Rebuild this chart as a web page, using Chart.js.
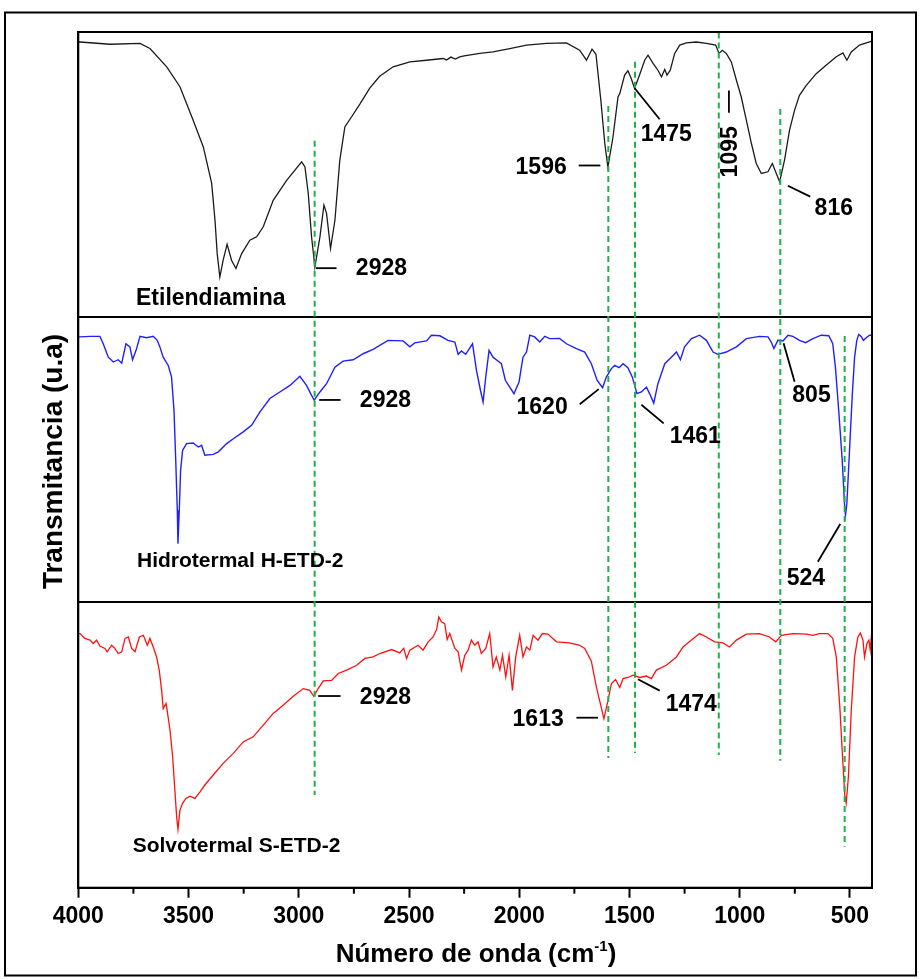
<!DOCTYPE html>
<html>
<head>
<meta charset="utf-8">
<script src="https://cdn.jsdelivr.net/npm/chart.js@4.4.1/dist/chart.umd.min.js"></script>
<style>
  html, body { margin: 0; padding: 0; background: #fff; }
  #canvas { display: block; }
</style>
</head>
<body>
<canvas id="canvas" width="919" height="979"></canvas>
<script>
/* espectros FTIR: [numero de onda, transmitancia relativa del panel] */
const etilendiamina = [
  [4000,96.5],[3992,96.5],[3856,95.7],[3720,96.0],[3675,94.2],[3599,87.8],[3539,80.8],[3479,69.1],
  [3433,59.7],[3395,46.9],[3380,34.0],[3370,22.3],[3358,14.1],[3343,20.0],[3325,25.6],[3305,20.0],
  [3285,17.1],[3259,22.3],[3222,27.0],[3191,28.2],[3161,31.7],[3116,41.0],[3055,48.0],[2987,54.5],
  [2972,52.7],[2957,43.4],[2942,28.2],[2927,17.6],[2904,28.2],[2886,39.3],[2874,36.4],[2856,24.1],
  [2836,34.0],[2814,55.0],[2791,66.7],[2761,70.2],[2723,74.7],[2678,80.3],[2633,84.5],[2572,87.8],
  [2496,89.5],[2421,90.1],[2345,90.7],[2330,90.2],[2310,91.2],[2290,90.5],[2270,91.3],[2250,91.6],
  [2179,92.5],[2119,93.0],[2043,94.2],[1967,95.4],[1877,96.0],[1786,96.2],[1726,93.6],[1695,90.1],
  [1670,94.0],[1652,92.2],[1630,76.1],[1612,60.9],[1598,52.6],[1575,63.1],[1552,77.2],[1544,78.4],
  [1522,84.9],[1507,86.4],[1492,83.7],[1477,80.2],[1454,85.0],[1431,90.1],[1416,91.9],[1393,89.0],
  [1371,86.6],[1355,84.3],[1340,86.9],[1330,84.9],[1315,86.6],[1295,92.5],[1272,95.4],[1242,96.2],
  [1197,96.5],[1151,96.0],[1109,95.4],[1094,92.5],[1079,93.6],[1061,92.5],[1038,89.5],[1015,83.1],
  [993,77.2],[970,69.1],[947,60.9],[925,53.9],[902,50.4],[872,51.0],[852,53.9],[834,50.4],
  [819,47.5],[797,55.0],[774,65.6],[751,72.6],[729,77.8],[698,81.3],[653,85.4],[607,88.4],
  [562,91.3],[532,92.7],[514,90.1],[494,93.0],[457,95.4],[411,96.5],[400,96.8]
];

const hidrotermal = [
  [4000,93.1],[3992,93.1],[3947,93.3],[3902,93.3],[3887,90.7],[3864,86.0],[3841,84.3],[3819,85.1],
  [3803,83.9],[3784,90.7],[3766,89.6],[3754,85.1],[3738,88.4],[3720,93.3],[3690,92.8],[3660,93.3],
  [3642,91.9],[3630,89.6],[3615,86.0],[3592,83.1],[3577,79.0],[3566,67.4],[3558,49.8],[3551,32.3],
  [3548,20.6],[3542,32.3],[3536,46.3],[3527,53.3],[3509,55.7],[3479,55.9],[3456,54.5],[3441,55.1],
  [3426,51.6],[3388,51.9],[3365,52.8],[3327,55.7],[3297,57.4],[3252,59.8],[3214,62.1],[3176,66.8],
  [3131,71.5],[3086,73.8],[3040,76.1],[2995,79.3],[2965,76.1],[2946,73.2],[2930,70.9],[2904,73.8],
  [2874,76.7],[2836,82.5],[2799,84.6],[2753,85.1],[2708,87.2],[2663,88.7],[2595,91.9],[2527,91.7],
  [2496,89.6],[2474,91.0],[2421,91.7],[2398,93.7],[2360,93.5],[2323,91.9],[2292,91.3],[2277,87.0],
  [2262,88.2],[2243,87.0],[2212,90.7],[2194,81.4],[2176,74.4],[2164,70.3],[2152,79.0],[2137,88.4],
  [2119,86.0],[2101,84.9],[2081,83.7],[2063,77.9],[2043,75.5],[2024,73.2],[2001,77.3],[1983,86.0],
  [1967,87.8],[1952,93.7],[1930,93.1],[1907,91.3],[1884,93.3],[1862,92.5],[1817,92.6],[1786,90.7],
  [1741,89.0],[1703,87.8],[1673,83.7],[1647,77.9],[1622,75.3],[1605,79.0],[1582,82.0],[1567,83.1],
  [1547,82.3],[1529,83.7],[1507,82.3],[1487,79.0],[1466,73.2],[1446,73.8],[1423,75.5],[1405,72.6],
  [1390,69.9],[1371,76.7],[1340,83.7],[1310,86.0],[1287,87.8],[1269,85.1],[1250,89.6],[1219,92.5],
  [1182,93.7],[1151,91.9],[1121,87.8],[1099,87.0],[1061,87.8],[1015,89.6],[970,92.5],[910,93.3],
  [872,93.1],[857,91.3],[845,89.0],[827,91.9],[804,91.7],[781,93.7],[759,93.3],[729,91.9],
  [701,91.1],[668,92.5],[630,93.7],[596,93.5],[578,90.7],[566,82.5],[551,67.4],[535,49.8],
  [524,33.5],[520,30.6],[514,34.7],[502,53.3],[490,72.0],[479,86.0],[469,91.9],[460,94.0],
  [449,93.3],[439,91.9],[426,92.8],[411,93.7],[400,93.7]
];

const solvotermal = [
  [4000,89.1],[3992,89.1],[3970,87.4],[3947,86.8],[3932,85.6],[3917,86.8],[3902,84.7],[3879,83.9],
  [3869,82.7],[3849,85.0],[3834,83.9],[3819,82.1],[3803,82.7],[3788,87.4],[3773,87.9],[3758,83.9],
  [3743,82.7],[3723,87.9],[3705,88.5],[3687,85.0],[3675,87.4],[3660,84.4],[3645,80.9],[3633,76.3],
  [3622,69.2],[3615,62.8],[3602,64.6],[3597,62.2],[3584,55.2],[3572,45.9],[3562,34.2],[3554,24.9],
  [3548,20.5],[3539,27.2],[3527,29.6],[3512,31.3],[3494,32.1],[3471,31.3],[3448,33.6],[3426,36.0],
  [3388,39.5],[3343,43.6],[3297,47.1],[3252,51.1],[3207,52.9],[3161,57.0],[3116,61.1],[3071,64.0],
  [3025,67.1],[2980,69.8],[2950,69.2],[2932,67.1],[2912,69.8],[2889,72.5],[2851,72.7],[2821,75.1],
  [2783,76.3],[2738,78.0],[2700,80.4],[2663,80.9],[2632,82.1],[2579,83.5],[2542,82.3],[2524,83.9],
  [2511,80.4],[2496,83.3],[2459,85.0],[2436,83.3],[2413,86.2],[2391,87.9],[2375,90.5],[2365,94.9],
  [2353,93.2],[2338,92.6],[2327,87.0],[2315,89.1],[2292,83.9],[2277,82.7],[2262,76.3],[2247,81.5],
  [2232,83.3],[2217,86.8],[2202,85.0],[2187,86.2],[2172,82.1],[2152,83.9],[2134,89.1],[2119,77.4],
  [2104,80.9],[2088,76.3],[2076,81.5],[2061,73.9],[2046,81.5],[2031,69.2],[2016,80.9],[1998,88.5],
  [1983,80.9],[1967,84.4],[1952,83.3],[1937,88.5],[1915,86.8],[1895,89.1],[1870,88.9],[1831,86.2],
  [1771,85.8],[1726,85.0],[1703,83.9],[1673,79.4],[1650,70.3],[1627,62.9],[1616,59.3],[1598,65.4],
  [1582,71.6],[1563,73.0],[1544,70.2],[1529,73.3],[1507,73.7],[1484,74.5],[1454,73.7],[1423,74.2],
  [1401,73.3],[1378,76.3],[1333,78.0],[1287,80.9],[1257,84.4],[1219,86.8],[1182,89.1],[1151,87.9],
  [1114,86.2],[1076,85.8],[1046,84.4],[1015,86.8],[970,88.9],[910,89.1],[865,87.9],[837,86.2],
  [811,88.5],[759,89.1],[698,88.9],[668,88.5],[638,89.1],[600,89.1],[578,87.4],[562,80.9],
  [546,63.4],[532,43.6],[523,31.9],[517,29.6],[507,38.9],[494,62.2],[479,80.9],[464,87.9],
  [453,89.3],[441,86.8],[434,80.9],[423,85.6],[414,86.8],[408,83.3],[400,90.9]
];

// bandas marcadas con linea verde discontinua
const bandas = [2928, 1596, 1475, 1095, 816, 524];
const bandaTop = [261.9, 274.1, 289.6, 299.8, 273.0, 193.4];
const bandaBottom = [32.5, 45.5, 47.2, 46.5, 44.5, 14.4];

const xTicks = [];
for (let v = 4000; v >= 500; v -= 250) xTicks.push(v);

const FONT = "'Liberation Sans', Arial, Helvetica, sans-serif";
const verde = '#1fb04a';

// etiquetas de picos: texto, posicion y linea guia (en unidades de los ejes)
const notas = [
  { t: '2928', at: [2741, 217.1], al: 'left', ln: [[2922.5, 217.2], [2828.7, 217.2]] },
  { t: '1596', at: [1784.7, 252.4], al: 'right', ln: [[1730.3, 253.2], [1632.0, 253.2]] },
  { t: '1475', at: [1449.2, 263.9], al: 'left', ln: [[1476.4, 280.3], [1363.1, 269.4]] },
  { t: '1095', at: [1039.8, 258.0], al: 'center', rot: true, ln: [[1048.9, 279.5], [1048.9, 271.7]] },
  { t: '816', at: [660.3, 238.0], al: 'left', ln: [[781.5, 246.1], [680.0, 242.3]] },
  { t: '2928', at: [2723, 170.8], al: 'left', ln: [[2907.5, 171.0], [2810.5, 171.0]] },
  { t: '1620', at: [1780.2, 168.3], al: 'right', ln: [[1725.7, 169.5], [1639.6, 174.8]] },
  { t: '1461', at: [1317.7, 158.1], al: 'left', ln: [[1446.0, 169.3], [1344.9, 162.8]] },
  { t: '805', at: [761.5, 172.4], al: 'left', ln: [[801.0, 190.9], [751.1, 177.4]] },
  { t: '524', at: [699.6, 108.5], al: 'center', ln: [[544.0, 127.5], [645.5, 114.3]] },
  { t: '2928', at: [2723, 66.8], al: 'left', ln: [[2912.1, 67.2], [2810.5, 67.2]] },
  { t: '1613', at: [1798.3, 58.8], al: 'right', ln: [[1740.7, 59.6], [1642.8, 59.6]] },
  { t: '1474', at: [1335.9, 64.3], al: 'left', ln: [[1461.5, 73.1], [1363.1, 69.1]] }
];

const muestras = [
  { t: 'Etilendiamina', at: [3738.3, 206.4], size: 23 },
  { t: 'Hidrotermal H-ETD-2', at: [3733.9, 114.3], size: 21 },
  { t: 'Solvotermal S-ETD-2', at: [3753.4, 14.6], size: 21 }
];

function serie(pares, offset) {
  return pares.map(p => ({ x: p[0], y: p[1] + offset }));
}

const datasets = [];
bandas.forEach((b, i) => {
  datasets.push({
    data: [{ x: b, y: bandaTop[i] }, { x: b, y: bandaBottom[i] }],
    borderColor: verde, borderWidth: 2, borderDash: [6, 4], pointRadius: 0, order: 0
  });
});
datasets.push({ data: serie(etilendiamina, 200), borderColor: '#1a1a1a', borderWidth: 1.3, pointRadius: 0, order: 1 });
datasets.push({ data: serie(hidrotermal, 100), borderColor: '#1f1fff', borderWidth: 1.4, pointRadius: 0, order: 1 });
datasets.push({ data: serie(solvotermal, 0), borderColor: '#ff1010', borderWidth: 1.3, pointRadius: 0, order: 1 });

const marcoPlugin = {
  id: 'marco',
  afterDatasetsDraw(chart) {
    const ctx = chart.ctx, xs = chart.scales.x, ys = chart.scales.y;
    const ca = chart.chartArea;
    ctx.save();
    // borde del area de trazado
    ctx.strokeStyle = '#000';
    ctx.lineWidth = 2;
    ctx.strokeRect(ca.left, ca.top, ca.right - ca.left, ca.bottom - ca.top);

    // lineas guia y numeros de los picos
    ctx.fillStyle = '#000';
    ctx.lineWidth = 1.8;
    notas.forEach(n => {
      ctx.beginPath();
      ctx.moveTo(xs.getPixelForValue(n.ln[0][0]), ys.getPixelForValue(n.ln[0][1]));
      ctx.lineTo(xs.getPixelForValue(n.ln[1][0]), ys.getPixelForValue(n.ln[1][1]));
      ctx.stroke();
      const x = xs.getPixelForValue(n.at[0]), y = ys.getPixelForValue(n.at[1]);
      ctx.font = 'bold 23px ' + FONT;
      ctx.textBaseline = 'middle';
      ctx.textAlign = n.al;
      if (n.rot) {
        ctx.save();
        ctx.translate(x, y);
        ctx.rotate(-Math.PI / 2);
        ctx.fillText(n.t, 0, 0);
        ctx.restore();
      } else {
        ctx.fillText(n.t, x, y);
      }
    });

    muestras.forEach(m => {
      ctx.font = 'bold ' + m.size + 'px ' + FONT;
      ctx.textAlign = 'left';
      ctx.textBaseline = 'middle';
      ctx.fillText(m.t, xs.getPixelForValue(m.at[0]), ys.getPixelForValue(m.at[1]));
    });
    ctx.restore();
  },
  afterDraw(chart) {
    const ctx = chart.ctx, xs = chart.scales.x;
    const ca = chart.chartArea;
    ctx.save();
    // marcas menores del eje x
    ctx.strokeStyle = '#000';
    ctx.lineWidth = 2;
    xTicks.filter(v => v % 500 !== 0).forEach(v => {
      const x = xs.getPixelForValue(v);
      ctx.beginPath();
      ctx.moveTo(x, ca.bottom);
      ctx.lineTo(x, ca.bottom + 6);
      ctx.stroke();
    });

    // titulo del eje y
    ctx.fillStyle = '#000';
    ctx.font = 'bold 28px ' + FONT;
    ctx.textAlign = 'center';
    ctx.textBaseline = 'alphabetic';
    ctx.translate(61.5, 461.5);
    ctx.rotate(-Math.PI / 2);
    ctx.fillText('Transmitancia (u.a)', 0, 0);
    ctx.setTransform(1, 0, 0, 1, 0, 0);

    // titulo del eje x con superindice
    const base = 'Número de onda (cm';
    const sup = '-1';
    ctx.font = 'bold 26px ' + FONT;
    const w1 = ctx.measureText(base).width;
    const w3 = ctx.measureText(')').width;
    ctx.font = 'bold 15px ' + FONT;
    const w2 = ctx.measureText(sup).width;
    const total = w1 + w2 + w3;
    const x0 = 476 - total / 2;
    const yb = 962;
    ctx.textAlign = 'left';
    ctx.font = 'bold 26px ' + FONT;
    ctx.fillText(base, x0, yb);
    ctx.font = 'bold 15px ' + FONT;
    ctx.fillText(sup, x0 + w1, yb - 11);
    ctx.font = 'bold 26px ' + FONT;
    ctx.fillText(')', x0 + w1 + w2, yb);

    // marco exterior de la figura
    ctx.lineWidth = 2;
    ctx.strokeRect(5, 12.5, 911, 963);
    ctx.restore();
  }
};

const ctx = document.getElementById('canvas');
new Chart(ctx, {
  type: 'line',
  data: { datasets: datasets },
  options: {
    responsive: false,
    animation: false,
    devicePixelRatio: 1,
    layout: { padding: { top: 32, right: 47, bottom: 0, left: 0 } },
    elements: { line: { tension: 0 } },
    plugins: { legend: { display: false }, tooltip: { enabled: false } },
    scales: {
      x: {
        type: 'linear',
        min: 400,
        max: 4000,
        reverse: true,
        afterBuildTicks: s => { s.ticks = xTicks.map(v => ({ value: v })); },
        afterFit: s => { s.height = 979 - 887.7; },
        ticks: {
          autoSkip: false,
          maxRotation: 0,
          color: '#000',
          padding: 5,
          font: { family: FONT, size: 23, weight: 'bold' },
          callback: v => (v % 500 === 0 ? String(v) : '')
        },
        grid: {
          drawOnChartArea: false,
          tickLength: 10,
          tickWidth: 2,
          tickColor: c => (c.tick && c.tick.value % 500 === 0 ? '#000' : 'rgba(0,0,0,0)')
        },
        border: { color: '#000', width: 2 }
      },
      y: {
        min: 0,
        max: 300,
        afterBuildTicks: s => { s.ticks = [0, 100, 200, 300].map(v => ({ value: v })); },
        afterFit: s => { s.width = 78.3; },
        ticks: { display: false },
        grid: { color: '#000', lineWidth: 2, drawTicks: false },
        border: { color: '#000', width: 2 }
      }
    }
  },
  plugins: [marcoPlugin]
});
</script>
</body>
</html>
